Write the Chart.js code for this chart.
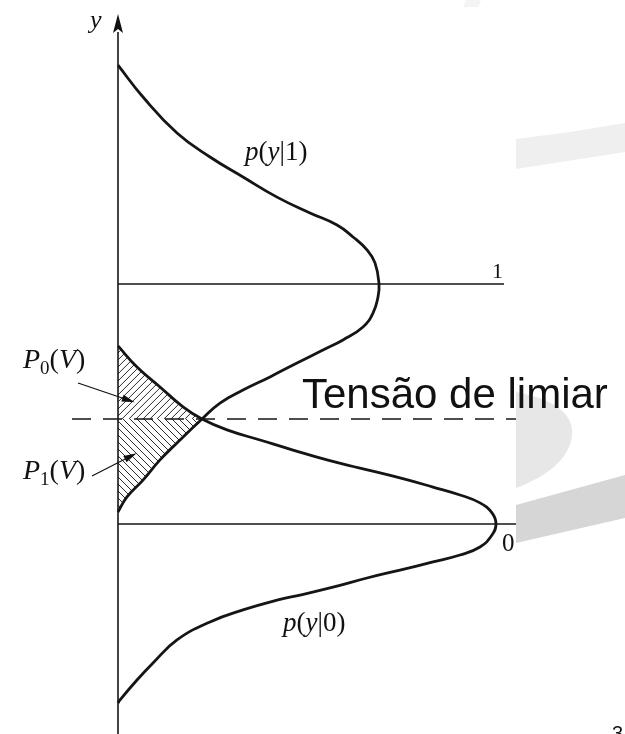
<!DOCTYPE html>
<html>
<head>
<meta charset="utf-8">
<script src="https://cdn.jsdelivr.net/npm/chart.js@4.4.0/dist/chart.umd.min.js"></script>
<style>
    html, body { margin: 0; padding: 0; background: #ffffff; }
    #wrap { width: 625px; height: 734px; position: relative; overflow: hidden; }
</style>
</head>
<body>
<div id="wrap"><canvas id="limiar-chart" width="625" height="734"></canvas></div>
<script>
// p(y|1): density (horizontal) against received voltage y (vertical)
const densityOne = [0.00, 0.25, 0.59, 0.92, 1.25, 1.59, 1.92, 2.19, 2.35, 2.49, 2.57, 2.61, 2.60, 2.55, 2.45, 2.25, 2.05, 1.79, 1.52, 1.25, 1.02, 0.84, 0.59, 0.42, 0.25, 0.09, 0.00];
const voltageOne = [1.912, 1.779, 1.629, 1.529, 1.446, 1.362, 1.296, 1.246, 1.196, 1.142, 1.088, 1.000, 0.946, 0.879, 0.821, 0.767, 0.725, 0.671, 0.613, 0.558, 0.504, 0.4375, 0.338, 0.267, 0.183, 0.113, 0.050];

// p(y|0)
const densityZero = [0.00, 0.19, 0.42, 0.65, 0.84, 1.09, 1.42, 1.75, 2.09, 2.42, 2.82, 3.15, 3.42, 3.62, 3.74, 3.78, 3.74, 3.62, 3.42, 3.15, 2.82, 2.49, 2.15, 1.82, 1.59, 1.25, 0.92, 0.59, 0.35, 0.19, 0.02, 0.00];
const voltageZero = [0.742, 0.654, 0.571, 0.488, 0.4375, 0.392, 0.350, 0.308, 0.267, 0.233, 0.192, 0.154, 0.121, 0.088, 0.046, 0.000, -0.046, -0.096, -0.129, -0.158, -0.192, -0.225, -0.263, -0.296, -0.317, -0.358, -0.408, -0.483, -0.579, -0.650, -0.733, -0.746];

// signal levels and the decision threshold
const levels = [0, 1];
const levelLabels = ["0", "1"];
const levelEnds = [3.98, 3.86];
const threshold = 0.4375;
const thresholdSpan = [-0.46, 3.98];
const axisSpan = [-0.875, 2.05];

function toPoints(xs, ys) {
    return xs.map(function (x, i) { return { x: x, y: ys[i] }; });
}

// runs of text in mixed styles: {t, it, size, dy}
function drawRuns(ctx, x, y, runs) {
    runs.forEach(function (r) {
        ctx.font = (r.it ? "italic " : "") + r.size + "px 'Liberation Serif', 'Times New Roman', serif";
        ctx.fillText(r.t, x, y + (r.dy || 0));
        x += ctx.measureText(r.t).width;
    });
}

function arrow(ctx, x1, y1, x2, y2) {
    var a = Math.atan2(y2 - y1, x2 - x1);
    ctx.beginPath();
    ctx.moveTo(x1, y1);
    ctx.lineTo(x2, y2);
    ctx.stroke();
    ctx.beginPath();
    ctx.moveTo(x2 + 4 * Math.cos(a), y2 + 4 * Math.sin(a));
    ctx.lineTo(x2 - 9 * Math.cos(a) + 3.5 * Math.sin(a), y2 - 9 * Math.sin(a) - 3.5 * Math.cos(a));
    ctx.lineTo(x2 - 9 * Math.cos(a) - 3.5 * Math.sin(a), y2 - 9 * Math.sin(a) + 3.5 * Math.cos(a));
    ctx.closePath();
    ctx.fill();
}

// hatch a polygon given in pixel coords; dir 1 = "/", -1 = "\"
function hatch(ctx, poly, dir, gap) {
    var xs = poly.map(function (p) { return p[0]; });
    var ys = poly.map(function (p) { return p[1]; });
    var x0 = Math.min.apply(null, xs), x1 = Math.max.apply(null, xs);
    var y0 = Math.min.apply(null, ys), y1 = Math.max.apply(null, ys);
    var h = y1 - y0;
    ctx.save();
    ctx.beginPath();
    poly.forEach(function (p, i) { i ? ctx.lineTo(p[0], p[1]) : ctx.moveTo(p[0], p[1]); });
    ctx.closePath();
    ctx.clip();
    ctx.strokeStyle = "#2a2a2a";
    ctx.lineWidth = 1;
    ctx.beginPath();
    for (var k = x0 - h; k < x1 + h; k += gap) {
        if (dir > 0) {
            ctx.moveTo(k, y1);
            ctx.lineTo(k + h, y0);
        } else {
            ctx.moveTo(k, y0);
            ctx.lineTo(k + h, y1);
        }
    }
    ctx.stroke();
    ctx.restore();
}

const backdrop = {
    id: "backdrop",
    beforeDraw: function (chart) {
        var ctx = chart.ctx;
        ctx.save();
        ctx.fillStyle = "#ffffff";
        ctx.fillRect(0, 0, chart.width, chart.height);
        function shape(color, pts) {
            ctx.fillStyle = color;
            ctx.beginPath();
            pts.forEach(function (p, i) { i ? ctx.lineTo(p[0], p[1]) : ctx.moveTo(p[0], p[1]); });
            ctx.closePath();
            ctx.fill();
        }
        shape("#f4f4f4", [[466, 0], [481, 0], [478, 7], [463, 7]]);
        shape("#efefef", [[516, 139], [570, 132], [625, 123], [625, 152], [516, 169]]);
        ctx.fillStyle = "#e7e7e7";
        ctx.beginPath();
        ctx.moveTo(516, 392);
        ctx.bezierCurveTo(550, 398, 574, 412, 572, 435);
        ctx.bezierCurveTo(570, 458, 548, 476, 516, 488);
        ctx.closePath();
        ctx.fill();
        shape("#d6d6d6", [[516, 505], [625, 475], [625, 518], [516, 543]]);
        ctx.restore();
    }
};

const annotations = {
    id: "annotations",
    beforeDatasetsDraw: function (chart) {
        var ctx = chart.ctx;
        var xs = chart.scales.x, ys = chart.scales.y;
        var ax = xs.getPixelForValue(0);
        var ty = ys.getPixelForValue(threshold);

        // P0(V): between the axis and p(y|0) above the threshold
        var upper = [[ax, ys.getPixelForValue(voltageZero[0])]];
        voltageZero.forEach(function (v, i) {
            if (v >= threshold) upper.push([xs.getPixelForValue(densityZero[i]), ys.getPixelForValue(v)]);
        });
        upper.push([ax, ty]);
        hatch(ctx, upper, 1, 7);

        // P1(V): between the axis and p(y|1) below the threshold
        var lower = [[ax, ty]];
        voltageOne.forEach(function (v, i) {
            if (v <= threshold) lower.push([xs.getPixelForValue(densityOne[i]), ys.getPixelForValue(v)]);
        });
        lower.push([ax, ys.getPixelForValue(voltageOne[voltageOne.length - 1])]);
        hatch(ctx, lower, -1, 7);
    },
    afterDatasetsDraw: function (chart) {
        var ctx = chart.ctx;
        var xs = chart.scales.x, ys = chart.scales.y;
        var ax = xs.getPixelForValue(0);
        ctx.save();
        ctx.fillStyle = "#111";
        ctx.strokeStyle = "#111";

        // arrow head on the y axis
        var top = ys.getPixelForValue(axisSpan[1]);
        ctx.beginPath();
        ctx.moveTo(ax, top - 18);
        ctx.lineTo(ax + 5, top + 1);
        ctx.lineTo(ax, top - 3);
        ctx.lineTo(ax - 5, top + 1);
        ctx.closePath();
        ctx.fill();
        ctx.textBaseline = "alphabetic";
        drawRuns(ctx, 90, 28, [{ t: "y", it: true, size: 26 }]);

        // level labels
        ctx.font = "22px 'Liberation Serif', serif";
        ctx.fillText(levelLabels[1], xs.getPixelForValue(levelEnds[1]) - 12, ys.getPixelForValue(levels[1]) - 6);
        ctx.font = "25px 'Liberation Serif', serif";
        ctx.fillText(levelLabels[0], xs.getPixelForValue(levelEnds[0]) - 14, ys.getPixelForValue(levels[0]) + 27);

        // curve names
        drawRuns(ctx, 245, 160, [
            { t: "p", it: true, size: 27 }, { t: "(", size: 27 }, { t: "y", it: true, size: 27 },
            { t: "|1)", size: 27 }
        ]);
        drawRuns(ctx, 283, 631, [
            { t: "p", it: true, size: 27 }, { t: "(", size: 27 }, { t: "y", it: true, size: 27 },
            { t: "|0)", size: 27 }
        ]);

        // error probability labels with pointers
        drawRuns(ctx, 23, 368, [
            { t: "P", it: true, size: 28 }, { t: "0", size: 19, dy: 6 }, { t: "(", size: 28 },
            { t: "V", it: true, size: 28 }, { t: ")", size: 28 }
        ]);
        drawRuns(ctx, 23, 479, [
            { t: "P", it: true, size: 28 }, { t: "1", size: 19, dy: 6 }, { t: "(", size: 28 },
            { t: "V", it: true, size: 28 }, { t: ")", size: 28 }
        ]);
        ctx.lineWidth = 1.2;
        arrow(ctx, 78, 383, 131, 401);
        arrow(ctx, 92, 476, 133, 455);

        // threshold caption and slide number
        ctx.font = "42px 'Liberation Sans', Arial, sans-serif";
        ctx.fillText("Tensão de limiar", 302, 408);
        ctx.font = "20px 'Liberation Sans', Arial, sans-serif";
        ctx.fillText("3", 612, 740);
        ctx.restore();
    }
};

function lineSet(points, width, dash) {
    return {
        data: points,
        showLine: true,
        borderColor: "#151515",
        borderWidth: width,
        borderDash: dash || [],
        pointRadius: 0,
        tension: 0,
        fill: false
    };
}

var curveOne = lineSet(toPoints(densityOne, voltageOne), 2.8);
curveOne.tension = 0.45;
var curveZero = lineSet(toPoints(densityZero, voltageZero), 2.8);
curveZero.tension = 0.45;

new Chart(document.getElementById("limiar-chart"), {
    type: "scatter",
    data: {
        datasets: [
            lineSet([{ x: 0, y: axisSpan[0] }, { x: 0, y: axisSpan[1] }], 1.6),
            lineSet([{ x: 0, y: levels[0] }, { x: levelEnds[0], y: levels[0] }], 1.6),
            lineSet([{ x: 0, y: levels[1] }, { x: levelEnds[1], y: levels[1] }], 1.6),
            lineSet([{ x: thresholdSpan[0], y: threshold }, { x: thresholdSpan[1], y: threshold }], 1.4, [19, 12]),
            curveOne,
            curveZero
        ]
    },
    options: {
        responsive: false,
        animation: false,
        layout: { padding: 0 },
        scales: {
            x: { type: "linear", display: false, min: -1.18, max: 5.07 },
            y: { type: "linear", display: false, min: -0.875, max: 2.18333 }
        },
        plugins: {
            legend: { display: false },
            tooltip: { enabled: false }
        }
    },
    plugins: [backdrop, annotations]
});
</script>
</body>
</html>
